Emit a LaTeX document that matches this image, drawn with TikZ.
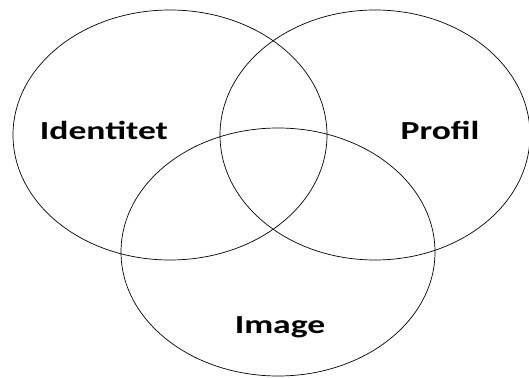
\documentclass[tikz,border=0pt]{standalone}
\usepackage{fontspec}
\setmainfont{Carlito}
\usetikzlibrary{positioning}

\begin{document}
\begin{tikzpicture}[x=1pt,y=1pt,line width=.7pt]
\useasboundingbox (0,0) rectangle (529,377);
\draw (170,242) ellipse [x radius=157,y radius=125];
\draw (375,242) ellipse [x radius=155,y radius=125];
\draw (278,125) ellipse [x radius=157,y radius=124];
\node[font=\fontsize{26}{28}\selectfont\bfseries,xscale=1.37,transform shape] (ident) at (104,247) {Identitet};
\node[font=\fontsize{26}{28}\selectfont\bfseries,xscale=1.37,transform shape] (profil) at (440,247) {Profil};
\node[font=\fontsize{26}{28}\selectfont\bfseries,xscale=1.37,transform shape] (img) at (280,50) {Image};
\end{tikzpicture}
\end{document}
